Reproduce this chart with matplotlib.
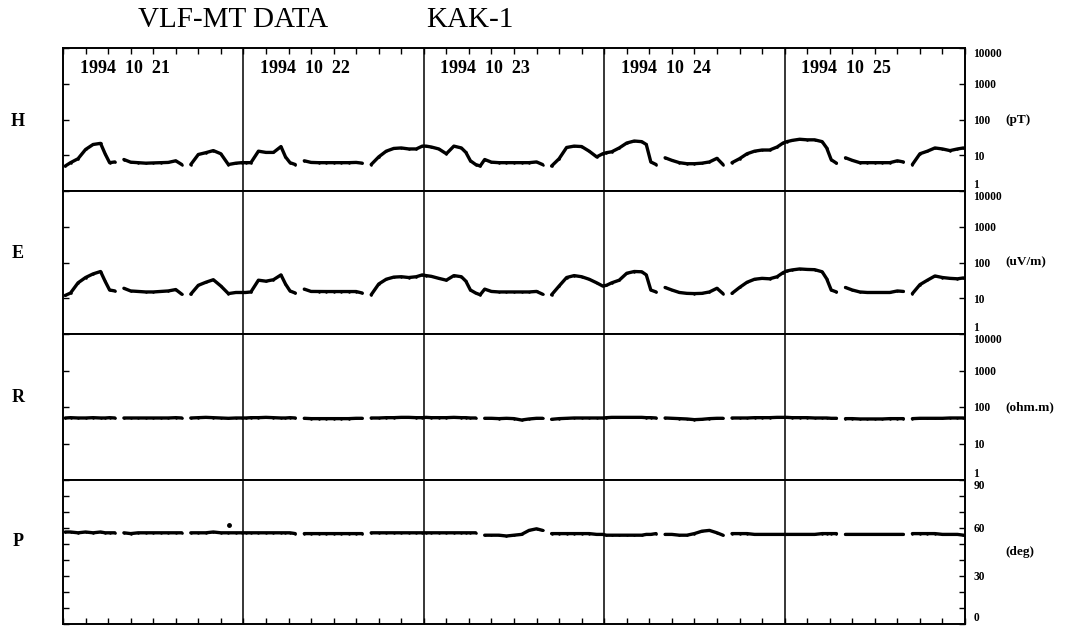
import numpy as np
import matplotlib
matplotlib.use('Agg')
import matplotlib.pyplot as plt
import matplotlib.transforms as mtrans

nan = np.nan

# sample times within each day (hours)
HOURS = [0.3, 1, 2, 3, 4, 5, 5.6, 6.2, 6.9, 7.5, 8.1, 9, 10, 11, 12, 13, 14, 15,
         15.8, 16.4, 17.0, 18, 19, 20, 21, 22, 23, 23.8]
DAYS = ['21', '22', '23', '24', '25']

# H (pT)
H_21 = [5.0, 6.2, 8, 14.5, 20, 21.5, 11, 6.2, 6.5, nan, 7.6, 6.4, 6.2, 6.0, 6.1, 6.2, 6.3, 7.0,
        5.5, nan, 5.5, 10.5, 11.8, 13.5, 11, 5.5, 6.0, 6.2]
H_22 = [6.2, 6.2, 13, 12, 12, 17.5, 9, 6.2, 5.5, nan, 7.0, 6.3, 6.2, 6.2, 6.2, 6.2, 6.2, 6.3,
        6.0, nan, 5.5, 9, 13, 15.5, 16, 15, 15, 18]
H_23 = [18, 17, 15, 11, 18, 16, 12, 7, 5.5, 5.0, 7.6, 6.4, 6.2, 6.2, 6.2, 6.2, 6.2, 6.5,
        5.5, nan, 5.0, 8, 16.5, 18, 17.5, 13, 9, 11]
H_24 = [11.8, 12.5, 16, 22, 25, 24, 20, 6.5, 5.5, nan, 8.5, 7.2, 6.2, 5.8, 5.8, 6.0, 6.5, 8.2,
        5.5, nan, 6.2, 8, 11, 13, 14, 14, 17, 22]
H_25 = [24, 26, 28, 27, 27, 24, 16, 7.5, 6, nan, 8.5, 7.2, 6.2, 6.2, 6.2, 6.2, 6.2, 7.0,
        6.5, nan, 5.5, 11, 13, 16, 15, 13.5, 15, 16]

# E (uV/m)
E_21 = [12, 14, 27, 38, 48, 56, 30, 17, 16, nan, 19, 16, 15.5, 15, 15, 15.5, 16, 17.5,
        13, nan, 13, 23, 28, 33, 22, 13.5, 14.5, 14.5]
E_22 = [14.5, 15, 32, 30, 33, 45, 25, 16, 14, nan, 18, 15.5, 15.4, 15.4, 15.4, 15.4, 15.4, 15.4,
        14, nan, 12.5, 25, 34, 39, 40, 38, 40, 45]
E_23 = [43, 41, 36, 32, 43, 40, 30, 17, 14, 12.5, 18, 15.5, 15, 15, 15, 15, 15, 15.5,
        13, nan, 12.5, 22, 38, 43, 40, 34, 27, 22]
E_24 = [23, 27, 32, 50, 56, 55, 45, 17, 15, nan, 20, 17, 14.5, 13.7, 13.5, 13.7, 15, 19,
        13.5, nan, 13.7, 20, 28, 34, 36, 35, 40, 52]
E_25 = [58, 62, 66, 64, 63, 55, 35, 17, 15, nan, 20, 17, 15, 14.5, 14.5, 14.5, 14.5, 16,
        15.5, nan, 13.5, 24, 32, 42, 38, 36, 35, 37]

# R (ohm.m)
R_21 = [50, 51, 50, 50, 51, 50, 50, 51, 50, nan, 50, 50, 50, 50, 50, 50, 50, 51,
        50, nan, 50, 51, 52, 51, 50, 49, 50, 50]
R_22 = [50, 51, 51, 52, 51, 50, 50, 51, 50, nan, 49, 48, 48, 48, 48, 48, 48, 49,
        49, nan, 50, 50, 51, 51, 52, 52, 51, 51]
R_23 = [52, 51, 51, 51, 52, 51, 51, 50, 50, nan, 49, 49, 48, 49, 48, 44, 47, 49,
        49, nan, 46, 48, 49, 50, 50, 50, 50, 50]
R_24 = [51, 52, 52, 52, 52, 52, 51, 51, 50, nan, 50, 49, 48, 47, 45, 46, 48, 49,
        49, nan, 50, 50, 50, 51, 51, 51, 52, 52]
R_25 = [52, 51, 51, 51, 50, 50, 50, 49, 49, nan, 48, 48, 47, 47, 47, 47, 48, 48,
        48, nan, 48, 49, 49, 49, 49, 50, 50, 50]

# P (deg)
P_21 = [57.5, 57.5, 57, 57.5, 57, 57.5, 57, 57, 57, nan, 57, 56.5, 57, 57, 57, 57, 57, 57,
        57, nan, 57, 57, 57, 57.5, 57, 57, 57, 57]
P_22 = [57, 57, 57, 57, 57, 57, 57, 57, 56.5, nan, 56.5, 56.5, 56.5, 56.5, 56.5, 56.5, 56.5, 56.5,
        56.5, nan, 57, 57, 57, 57, 57, 57, 57, 57]
P_23 = [57, 57, 57, 57, 57, 57, 57, 57, 57, nan, 55.5, 55.5, 55.5, 55, 55.5, 56, 58.5, 59.5,
        58.5, nan, 56.5, 56.5, 56.5, 56.5, 56.5, 56.5, 56, 56]
P_24 = [55.5, 55.5, 55.5, 55.5, 55.5, 55.5, 56, 56, 56.5, nan, 56, 56, 55.5, 55.5, 56.5, 58, 58.5, 57,
        55.5, nan, 56.5, 56.5, 56.5, 56, 56, 56, 56, 56]
P_25 = [56, 56, 56, 56, 56, 56.5, 56.5, 56.5, 56.5, nan, 56, 56, 56, 56, 56, 56, 56, 56,
        56, nan, 56.5, 56.5, 56.5, 56.5, 56, 56, 56, 55.5]
P_OUT_T = [22.1]
P_OUT_V = [62]

LOG_TICKS = [1, 10, 100, 1000, 10000]
LOG_LABELS = ['1', '10', '100', '1000', '10000']
P_TICKS = [0, 30, 60, 90]
P_LABELS = ['0', '30', '60', '90']

t = np.concatenate([i * 24 + np.array(HOURS) for i in range(len(DAYS))])
H = np.concatenate([H_21, H_22, H_23, H_24, H_25])
E = np.concatenate([E_21, E_22, E_23, E_24, E_25])
R = np.concatenate([R_21, R_22, R_23, R_24, R_25])
P = np.concatenate([P_21, P_22, P_23, P_24, P_25])

SERIF = 'Liberation Serif'
W, Hpx = 1069, 626
fig = plt.figure(figsize=(W / 100, Hpx / 100), dpi=100)

left, right = 63, 965
panels = [(48, 191), (191, 334), (334, 480), (480, 624)]
axes = []
for top, bot in panels:
    ax = fig.add_axes([left / W, 1 - bot / Hpx, (right - left) / W, (bot - top) / Hpx])
    axes.append(ax)

series = [H, E, R, P]
names = ['H', 'E', 'R', 'P']
units = ['(pT)', '(uV/m)', '(ohm.m)', '(deg)']
name_y = [122, 253, 397, 541]

for k, ax in enumerate(axes):
    ax.plot(t, series[k], color='black', lw=2.4, marker='o', ms=1.8, mew=0,
            solid_capstyle='round', solid_joinstyle='round')
    for d in [24, 48, 72, 96]:
        ax.axvline(d, color='black', lw=1.1)
    ax.set_xlim(0, 120)
    ax.set_xticks(np.arange(0, 121, 3))
    ax.tick_params(axis='x', direction='in', length=4, width=1,
                   top=(k == 0), bottom=(k == 3), labelbottom=False)
    for sp in ax.spines.values():
        sp.set_linewidth(1.4)
    if k < 3:
        ax.set_yscale('log')
        ax.set_ylim(1, 10000)
        ax.set_yticks(LOG_TICKS)
        ax.set_yticklabels(LOG_LABELS)
        ax.yaxis.set_minor_locator(matplotlib.ticker.NullLocator())
        unit_y = 100
    else:
        ax.set_ylim(0, 90)
        ax.set_yticks(P_TICKS)
        ax.set_yticklabels(P_LABELS)
        ax.set_yticks(np.arange(0, 91, 10), minor=True)
        ax.plot(P_OUT_T, P_OUT_V, 'o', color='black', ms=2.5)
        unit_y = 45
    ax.tick_params(axis='y', which='both', direction='in', length=4, width=1,
                   left=True, right=True, labelleft=False, labelright=True, pad=6)
    labs = ax.get_yticklabels()
    for lab in labs:
        lab.set_fontfamily(SERIF)
        lab.set_fontweight('bold')
        lab.set_fontsize(8.3)
    labs[0].set_va('bottom')
    labs[-1].set_va('top')
    tr = mtrans.blended_transform_factory(ax.transAxes, ax.transData)
    ax.text(1.045, unit_y, units[k], transform=tr, ha='left', va='center',
            fontfamily=SERIF, fontweight='bold', fontsize=9.5)
    fig.text(18 / W, 1 - name_y[k] / Hpx, names[k], ha='center', va='center',
             fontfamily=SERIF, fontweight='bold', fontsize=13)

# date labels along the top panel
trh = mtrans.blended_transform_factory(axes[0].transData, axes[0].transAxes)
for i, d in enumerate(DAYS):
    axes[0].text(i * 24 + 2.2, 0.86, '1994  10  ' + d, transform=trh, ha='left',
                 va='center', fontfamily=SERIF, fontweight='bold', fontsize=13)

fig.text(138 / W, 1 - 20 / Hpx, 'VLF-MT DATA', ha='left', va='center',
         fontfamily=SERIF, fontsize=21)
fig.text(426 / W, 1 - 20 / Hpx, 'KAK-1', ha='left', va='center',
         fontfamily=SERIF, fontsize=21)

fig.savefig('out.png', dpi=100, facecolor='white')
